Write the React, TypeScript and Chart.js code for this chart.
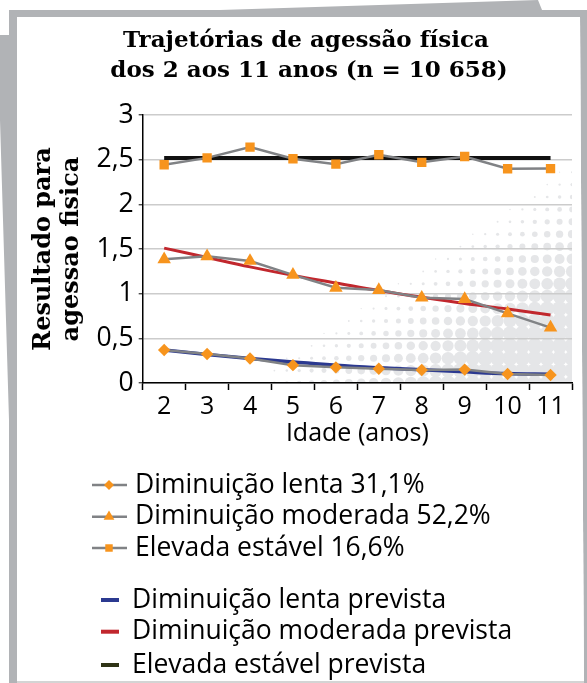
import React, { useEffect, useRef } from 'react';
import { Chart, registerables } from 'chart.js';
import { drawPoint } from 'chart.js/helpers';

Chart.register(...registerables);

const ages = ['2', '3', '4', '5', '6', '7', '8', '9', '10', '11'];

const lenta = [0.37, 0.325, 0.275, 0.2, 0.175, 0.16, 0.145, 0.15, 0.1, 0.09];
const moderada = [1.385, 1.418, 1.366, 1.21, 1.066, 1.04, 0.955, 0.94, 0.78, 0.62];
const elevada = [2.443, 2.52, 2.64, 2.51, 2.45, 2.555, 2.47, 2.535, 2.398, 2.4];

const lentaPrevista = [0.37, 0.32, 0.275, 0.236, 0.198, 0.17, 0.148, 0.125, 0.105, 0.097];
const moderadaPrevista = [1.51, 1.405, 1.3, 1.205, 1.12, 1.035, 0.96, 0.89, 0.828, 0.76];
const elevadaPrevista = [2.52, 2.52, 2.52, 2.52, 2.52, 2.52, 2.52, 2.52, 2.52, 2.52];

const seriesLabels = [
  'Diminuição lenta 31,1%',
  'Diminuição moderada 52,2%',
  'Elevada estável 16,6%',
  'Diminuição lenta prevista',
  'Diminuição moderada prevista',
  'Elevada estável prevista',
];

const yTickValues = [0, 0.5, 1, 1.5, 2, 2.5, 3];
const yTickLabels = ['0', '0,5', '1', '1,5', '2', '2,5', '3'];

const titleLines = ['Trajetórias de agessão física', 'dos 2 aos 11 anos (n = 10 658)'];
const yTitleLines = ['Resultado para', 'agessao fisica'];
const xTitle = 'Idade (anos)';

const ORANGE = '#F7941D';
const GRAY_LINE = '#808285';
const FRAME = '#b1b3b6';
const SANS = '"Open Sans", sans-serif';
const SERIF = '"DejaVu Serif", serif';

const decorPlugin = {
  id: 'decor',
  beforeDraw(chart: any) {
    const ctx = chart.ctx as CanvasRenderingContext2D;
    const W = chart.width;
    const H = chart.height;
    ctx.save();
    ctx.fillStyle = '#ffffff';
    ctx.fillRect(0, 0, W, H);
    // frame behind the panel
    ctx.fillStyle = FRAME;
    ctx.beginPath();
    ctx.moveTo(220, 10);
    ctx.lineTo(538, 0);
    ctx.lineTo(542, 10);
    ctx.closePath();
    ctx.fill();
    ctx.fillRect(9, 10, 578, 8);
    ctx.beginPath();
    ctx.moveTo(9, 10);
    ctx.lineTo(17, 10);
    ctx.lineTo(17, 683);
    ctx.lineTo(9, 683);
    ctx.lineTo(9, 420);
    ctx.lineTo(0, 120);
    ctx.lineTo(0, 35);
    ctx.lineTo(9, 35);
    ctx.closePath();
    ctx.fill();
    ctx.beginPath();
    ctx.moveTo(580, 10);
    ctx.lineTo(587, 10);
    ctx.lineTo(587, 683);
    ctx.lineTo(584, 683);
    ctx.closePath();
    ctx.fill();
    // panel
    ctx.fillStyle = '#ffffff';
    ctx.beginPath();
    ctx.moveTo(17, 17);
    ctx.lineTo(580, 17);
    ctx.lineTo(584, 683);
    ctx.lineTo(17, 683);
    ctx.closePath();
    ctx.fill();
    ctx.fillStyle = '#d4d4d4';
    ctx.fillRect(17, 681, 567, 2);

    // halftone decoration inside plot area
    const a = chart.chartArea;
    ctx.beginPath();
    ctx.rect(a.left, a.top, a.right - a.left, a.bottom - a.top);
    ctx.clip();
    const step = 12.4;
    ctx.fillStyle = '#e5e6e8';
    for (let cy = a.bottom; cy > a.top - step; cy -= step) {
      for (let cx = a.right; cx > a.left - step; cx -= step) {
        const u = ((cx - 225) * 0.675 + (cy - 383)) / 150;
        if (u <= 0) continue;
        const r = 7.6 * Math.min(1, Math.pow(u, 1.1));
        if (r < 0.6) continue;
        ctx.beginPath();
        ctx.arc(cx, cy, r, 0, Math.PI * 2);
        ctx.fill();
      }
    }
    ctx.restore();
  },
  afterDraw(chart: any) {
    const ctx = chart.ctx as CanvasRenderingContext2D;
    ctx.save();
    // title
    ctx.fillStyle = '#000';
    ctx.font = `bold 23px ${SERIF}`;
    ctx.textAlign = 'center';
    ctx.textBaseline = 'middle';
    ctx.fillText(titleLines[0], 306, 41);
    ctx.fillText(titleLines[1], 309, 71);

    // legend
    const rowsY = [485, 516.7, 548, 600, 631.7, 665];
    ctx.font = `26.5px ${SANS}`;
    ctx.textAlign = 'left';
    chart.data.datasets.forEach((ds: any, i: number) => {
      const y = rowsY[i];
      if (i < 3) {
        ctx.strokeStyle = GRAY_LINE;
        ctx.lineWidth = 2.5;
        ctx.beginPath();
        ctx.moveTo(92, y);
        ctx.lineTo(127, y);
        ctx.stroke();
        ctx.fillStyle = ORANGE;
        drawPoint(ctx, { pointStyle: ds.pointStyle, radius: ds.pointRadius * 0.8, rotation: 0, borderWidth: 0 }, 109, y);
        ctx.fillStyle = '#000';
        ctx.fillText(ds.label, 135, y);
      } else {
        ctx.fillStyle = ds.legendColor;
        ctx.fillRect(101, y - 2, 18, 4);
        ctx.fillStyle = '#000';
        ctx.fillText(ds.label, 132, y);
      }
    });
    ctx.restore();
  },
};

export default function App() {
  const ref = useRef<HTMLCanvasElement | null>(null);
  useEffect(() => {
    if (!ref.current) return;
    const observed = (label: string, data: number[], style: string, radius: number) => ({
      label,
      data,
      borderColor: GRAY_LINE,
      borderWidth: 2.5,
      backgroundColor: ORANGE,
      pointBackgroundColor: ORANGE,
      pointBorderWidth: 0,
      pointStyle: style,
      pointRadius: radius,
      tension: 0,
    });
    const predicted = (label: string, data: number[], color: string, legendColor: string, width: number) => ({
      label,
      data,
      borderColor: color,
      legendColor,
      borderWidth: width,
      pointRadius: 0,
      tension: 0.4,
      fill: false,
    });
    const chart = new Chart(ref.current, {
      type: 'line',
      data: {
        labels: ages,
        datasets: [
          observed(seriesLabels[0], lenta, 'rectRot', 6.2),
          observed(seriesLabels[1], moderada, 'triangle', 7.8),
          observed(seriesLabels[2], elevada, 'rect', 6.6),
          predicted(seriesLabels[3], lentaPrevista, '#2B3990', '#2B3990', 3.5),
          predicted(seriesLabels[4], moderadaPrevista, '#C1272D', '#C1272D', 3),
          predicted(seriesLabels[5], elevadaPrevista, '#111111', '#2F3316', 4),
        ] as any,
      },
      options: {
        animation: false,
        responsive: false,
        devicePixelRatio: 1,
        layout: { padding: { left: 16, top: 115, right: 15, bottom: 235 } },
        plugins: {
          legend: { display: false },
          tooltip: { enabled: false },
          title: { display: false },
        },
        scales: {
          x: {
            type: 'category',
            offset: true,
            grid: {
              display: true,
              drawOnChartArea: false,
              offset: true,
              tickLength: 7,
              tickColor: '#000',
              tickWidth: 1.5,
            },
            border: { color: '#000', width: 1.5 },
            ticks: {
              font: { family: SANS, size: 25 },
              color: '#000',
              padding: 2,
              maxRotation: 0,
              autoSkip: false,
            },
            title: {
              display: true,
              text: xTitle,
              color: '#000',
              font: { family: SANS, size: 25, lineHeight: 28 / 25 },
              padding: { top: 0, bottom: 0 },
            },
            afterFit: (s: any) => {
              s.height = 65;
            },
          },
          y: {
            min: 0,
            max: 3,
            ticks: {
              stepSize: 0.5,
              font: { family: SANS, size: 26.5 },
              color: '#000',
              padding: 5,
              callback: (v: any) => {
                const k = yTickValues.indexOf(Number(v));
                return k >= 0 ? yTickLabels[k] : '';
              },
            },
            grid: {
              color: '#cccccc',
              lineWidth: 1.6,
              tickColor: '#000',
              tickLength: 4,
              tickWidth: 1,
            },
            border: { color: '#000', width: 1.5 },
            title: {
              display: true,
              text: yTitleLines,
              color: '#000',
              font: { family: SERIF, weight: 'bold', size: 24, lineHeight: 28 / 24 },
              padding: { top: 14, bottom: 0 },
            },
            afterFit: (s: any) => {
              s.width = 126.7;
            },
          },
        },
      } as any,
      plugins: [decorPlugin],
    });
    return () => chart.destroy();
  }, []);
  return (
    <div style={{ position: 'absolute', left: 0, top: 0, width: 587, height: 683 }}>
      <canvas ref={ref} width={587} height={683} style={{ display: 'block', width: 587, height: 683 }} />
    </div>
  );
}
